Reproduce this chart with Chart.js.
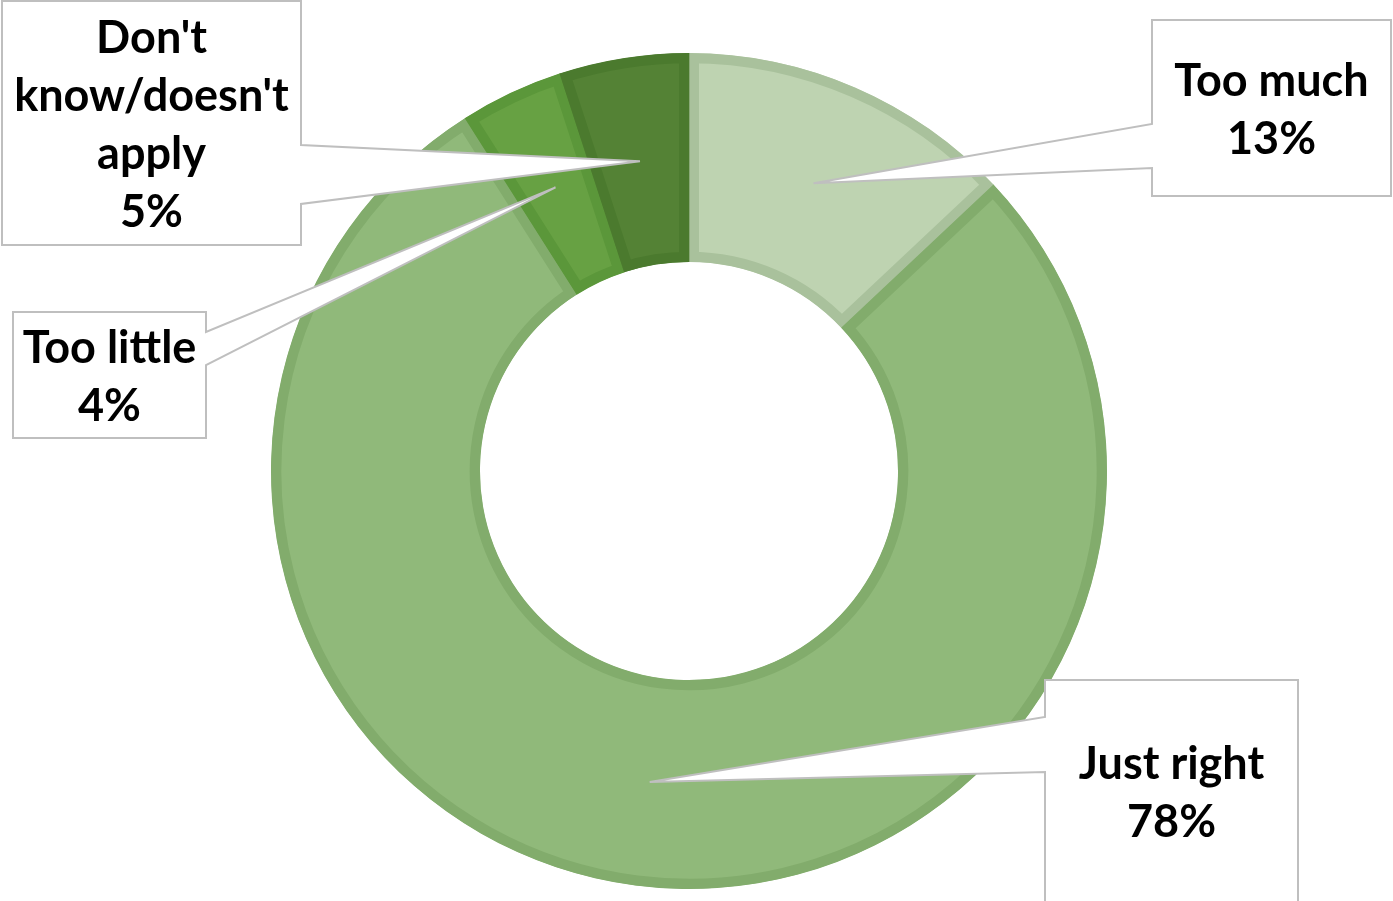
<!DOCTYPE html>
<html>
<head>
<meta charset="utf-8">
<script src="https://cdn.jsdelivr.net/npm/chart.js@4/dist/chart.umd.min.js"></script>
<style>
  body { margin: 0; background: #ffffff; }
  #wrap { width: 1393px; height: 901px; position: relative; }
</style>
</head>
<body>
<div id="wrap"><canvas id="donut"></canvas></div>
<script>
// donnees
const categories = ['Too much', 'Just right', 'Too little', "Don't know/doesn't apply"];
const percentages = [13, 78, 4, 5];
// texte des etiquettes, une ligne par entree
const labelLines = [
  ['Too much', '13%'],
  ['Just right', '78%'],
  ['Too little', '4%'],
  ["Don't", "know/doesn't", 'apply', '5%']
];

const fillColors = ['#bed3b1', '#90b97a', '#67a143', '#548235'];
const edgeColors = ['#a9c19c', '#82ac6c', '#5b973a', '#4b7a2e'];

// boites des etiquettes (x, y, largeur, hauteur), cote de la pointe et base de la pointe
const calloutBoxes = [
  { x: 1152, y: 20, w: 239, h: 176, side: 'left', b1: 124, b2: 168 },
  { x: 1045, y: 680, w: 253, h: 222, side: 'left', b1: 717, b2: 772 },
  { x: 13, y: 312, w: 193, h: 126, side: 'right', b1: 332, b2: 365 },
  { x: 2, y: 1, w: 299, h: 244, side: 'right', b1: 145, b2: 204 }
];

const lineStep = 58;
const labelFont = 'bold 45px Lato, "Open Sans", sans-serif';

// dessine les bulles avec une pointe vers le centre de chaque part
const calloutPlugin = {
  id: 'callouts',
  afterDatasetsDraw(chart) {
    const ctx = chart.ctx;
    const arcs = chart.getDatasetMeta(0).data;
    ctx.save();
    for (let i = 0; i < arcs.length; i++) {
      const b = calloutBoxes[i];
      const tip = arcs[i].getCenterPoint();
      const x0 = b.x, y0 = b.y, x1 = b.x + b.w, y1 = b.y + b.h;
      ctx.beginPath();
      if (b.side === 'left') {
        ctx.moveTo(x0, y0);
        ctx.lineTo(x1, y0);
        ctx.lineTo(x1, y1);
        ctx.lineTo(x0, y1);
        ctx.lineTo(x0, b.b2);
        ctx.lineTo(tip.x, tip.y);
        ctx.lineTo(x0, b.b1);
      } else {
        ctx.moveTo(x0, y0);
        ctx.lineTo(x1, y0);
        ctx.lineTo(x1, b.b1);
        ctx.lineTo(tip.x, tip.y);
        ctx.lineTo(x1, b.b2);
        ctx.lineTo(x1, y1);
        ctx.lineTo(x0, y1);
      }
      ctx.closePath();
      ctx.fillStyle = '#ffffff';
      ctx.fill();
      ctx.strokeStyle = '#bfbfbf';
      ctx.lineWidth = 2;
      ctx.lineJoin = 'miter';
      ctx.stroke();

      // texte
      const lines = labelLines[i];
      const cx = x0 + b.w / 2;
      const cy = y0 + b.h / 2 + 2;
      ctx.fillStyle = '#000000';
      ctx.font = labelFont;
      ctx.textAlign = 'center';
      ctx.textBaseline = 'middle';
      for (let k = 0; k < lines.length; k++) {
        const ly = cy + (k - (lines.length - 1) / 2) * lineStep;
        ctx.fillText(lines[k], cx, ly);
      }
    }
    ctx.restore();
  }
};

const ctx1 = document.getElementById('donut').getContext('2d');
const chart = new Chart(ctx1, {
  type: 'doughnut',
  data: {
    labels: categories,
    datasets: [{
      data: percentages,
      backgroundColor: fillColors,
      borderColor: edgeColors,
      borderWidth: 10,
      borderAlign: 'inner'
    }]
  },
  options: {
    responsive: true,
    maintainAspectRatio: false,
    animation: false,
    cutout: '50%',
    layout: { padding: { top: 53, bottom: 12, left: 271, right: 286 } },
    plugins: {
      legend: { display: false },
      tooltip: { enabled: false }
    }
  },
  plugins: [calloutPlugin]
});
</script>
</body>
</html>
